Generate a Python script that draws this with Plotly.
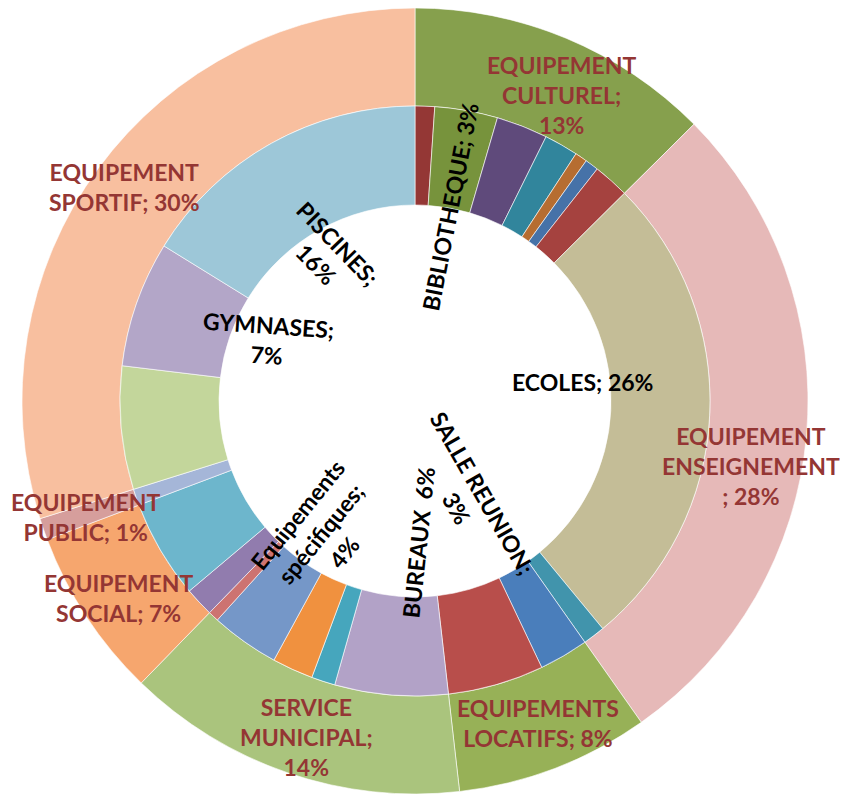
import math
import plotly.graph_objects as go

# anneau extérieur : familles d'équipements
familles = ["EQUIPEMENT CULTUREL", "EQUIPEMENT ENSEIGNEMENT", "EQUIPEMENTS LOCATIFS",
            "SERVICE MUNICIPAL", "EQUIPEMENT SOCIAL", "EQUIPEMENT PUBLIC", "EQUIPEMENT SPORTIF"]
familles_val = [12.57, 27.68, 7.96, 14.08, 7.0, 0.9, 29.85]

# anneau intérieur : détail par type de bâtiment (même ordre que les familles)
types = ["CULTUREL 1", "BIBLIOTHEQUE", "CULTUREL 2", "CULTUREL 3", "CULTUREL 4", "CULTUREL 5",
         "CULTUREL 6", "ECOLES", "ENSEIGNEMENT 1", "SALLE REUNION", "LOCATIFS 1", "BUREAUX",
         "MUNICIPAL 1", "MUNICIPAL 2", "Equipements spécifiques", "MUNICIPAL 3", "SOCIAL 1",
         "SOCIAL 2", "PUBLIC 1", "SPORTIF 1", "GYMNASES", "PISCINES"]
types_val = [1.07, 3.44, 2.82, 1.86, 0.67, 0.74, 1.97, 26.47, 1.21, 2.70, 5.26, 6.20,
             1.30, 2.25, 3.75, 0.58, 1.60, 5.40, 0.90, 6.75, 6.90, 16.20]

couleurs_familles = ["#86A04D", "#E6B9B8", "#97B157", "#AAC47D", "#F6A66E", "#D69E9C", "#F8BF9F"]
couleurs_types = ["#943735", "#77933C", "#5F4A7B", "#31859C", "#B66D31", "#4672A8", "#A5423F",
                  "#C4BD97", "#4194AC", "#4A7EBB", "#B84E4B", "#B2A2C7", "#46A6BD", "#F0913F",
                  "#7597C8", "#CD7371", "#917CAE", "#6DB6CC", "#A5B6D8", "#C3D69B", "#B3A6C8",
                  "#9DC7D8"]

# la page garde une marge de 8 px autour de la figure
W, H = 840, 786
CX, CY = 407, 393
R_OUT, R_MID, R_IN = 393, 295, 196

# étiquettes : texte, décalage d'angle, rayon (px), rotation
lab_familles = {
    "EQUIPEMENT CULTUREL": ("EQUIPEMENT<br>CULTUREL;<br>{p}%", 3.0, 339, 0),
    "EQUIPEMENT ENSEIGNEMENT": ("EQUIPEMENT<br>ENSEIGNEMENT<br>; {p}%", 6.0, 342, 0),
    "EQUIPEMENTS LOCATIFS": ("EQUIPEMENTS<br>LOCATIFS; {p}%", 0, 345, 0),
    "SERVICE MUNICIPAL": ("SERVICE<br>MUNICIPAL;<br>{p}%", -0.9, 353, 0),
    "EQUIPEMENT SOCIAL": ("EQUIPEMENT<br>SOCIAL; {p}%", -0.4, 356, 0),
    "EQUIPEMENT PUBLIC": ("EQUIPEMENT<br>PUBLIC; {p}%", -0.3, 349, 0),
    "EQUIPEMENT SPORTIF": ("EQUIPEMENT<br>SPORTIF; {p}%", 0, 361, 0),
}
lab_types = {
    "BIBLIOTHEQUE": ("BIBLIOTHEQUE; {p}%", 0.2, 197, -79),
    "ECOLES": ("ECOLES; {p}%", -9.4, 169, 0),
    "SALLE REUNION": ("SALLE REUNION;<br>{p}%", 1.5, 114, 60),
    "BUREAUX": ("BUREAUX&nbsp; {p}%", -6.0, 141, -84),
    "Equipements spécifiques": ("Equipements<br>spécifiques;<br>{p}%", 0.3, 163, -51),
    "GYMNASES": ("GYMNASES;<br>{p}%", 3.1, 159, 4),
    "PISCINES": ("PISCINES;<br>{p}%", -1.8, 171, 46),
}


def domaine(r):
    return dict(x=[(CX - r) / W, (CX + r) / W], y=[1 - (CY + r) / H, 1 - (CY - r) / H])


def etiquettes(noms, valeurs, styles, couleur):
    total = sum(valeurs)
    out = []
    cum = 0
    for nom, v in zip(noms, valeurs):
        mid = (cum + v / 2) / total * 360
        cum += v
        if nom not in styles:
            continue
        txt, dth, r, rot = styles[nom]
        th = math.radians(mid + dth)
        x = CX + r * math.sin(th)
        y = CY - r * math.cos(th)
        out.append(dict(
            x=x / W, y=1 - y / H, xref="paper", yref="paper",
            text=txt.format(p=round(v / total * 100)), showarrow=False,
            textangle=rot, xanchor="center", yanchor="middle",
            font=dict(family="Lato, 'Open Sans', sans-serif", size=23,
                      color=couleur, weight="bold"),
        ))
    return out


fig = go.Figure()
fig.add_trace(go.Pie(
    labels=familles, values=familles_val, hole=R_MID / R_OUT,
    domain=domaine(R_OUT), sort=False, direction="clockwise", rotation=0,
    marker=dict(colors=couleurs_familles, line=dict(color="white", width=0.6)),
    textinfo="none", hoverinfo="label+percent",
))
fig.add_trace(go.Pie(
    labels=types, values=types_val, hole=R_IN / R_MID,
    domain=domaine(R_MID), sort=False, direction="clockwise", rotation=0,
    marker=dict(colors=couleurs_types, line=dict(color="white", width=0.6)),
    textinfo="none", hoverinfo="label+percent",
))

fig.update_layout(
    width=W, height=H,
    margin=dict(l=0, r=0, t=0, b=0),
    showlegend=False,
    paper_bgcolor="white",
    annotations=etiquettes(familles, familles_val, lab_familles, "#943634")
    + etiquettes(types, types_val, lab_types, "black"),
)

fig.write_html("out.html")
